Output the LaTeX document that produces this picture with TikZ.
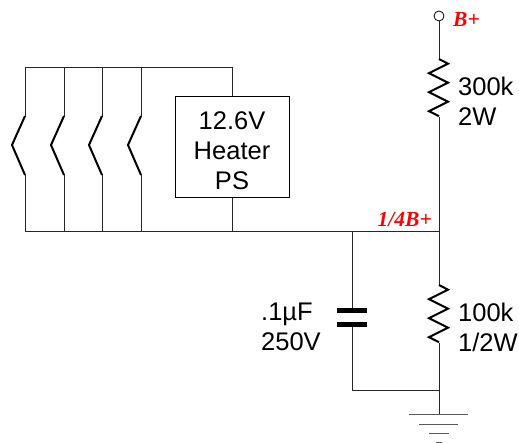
\documentclass[tikz,border=0pt]{standalone}
\usepackage{fontspec}
\setmainfont{Liberation Sans}
\newfontfamily\redfont{Liberation Serif}
\usetikzlibrary{positioning}
\tikzset{wire/.style={line width=1pt,black!85},
  part/.style={line width=2pt,black,line join=miter},
  plate/.style={line width=5pt,black},
  val/.style={align=left,font=\fontsize{25.5}{30}\selectfont,inner sep=0pt,anchor=west},
  lab/.style={red,inner sep=0pt,font=\redfont\bfseries\itshape\fontsize{21.5}{24}\selectfont},
  gnd/.style={line width=1pt,black!65}}
\newcommand{\reszig}[1]{\draw[part] (#1) -- ++(9,4.7) -- ++(-19,9.5) -- ++(19,9.5) -- ++(-19,9.5) -- ++(19,9.5) -- ++(-19,9.5) -- ++(10,5)}
\begin{document}
\begin{tikzpicture}[x=1pt,y=-1pt]
	\useasboundingbox (0,0) rectangle (519,443);
	\coordinate (TL) at (25,68);
	\coordinate (TR) at (232,68);
	\coordinate (BL) at (25,232);
	\coordinate (J) at (439,232);
	\coordinate (JC) at (352,232);
	\coordinate (JP) at (232,232);
	\coordinate (GC) at (352,390);
	\coordinate (G) at (439,390);
	\coordinate (GT) at (439,414);
	\node[draw,line width=1pt,minimum width=114pt,minimum height=101pt,inner sep=0pt] (PS) at (232,147.5) {};
	\node[val,align=center,anchor=center] (PSv) at (232,150.5) {12.6V\\Heater\\PS};
	\node[draw,circle,line width=.8pt,minimum size=10pt,inner sep=0pt] (Bplus) at (439,16) {};
	\node[lab,anchor=west] (BplusL) at (453,19) {B+};
	\node[lab,anchor=east] (QuarterL) at (432,220) {1/4B+};
	% heater strings
	\foreach \i/\x in {1/25,2/64,3/102,4/141}{
		\coordinate (T\i) at (\x,68);
		\coordinate (U\i) at (\x,116);
		\coordinate (V\i) at (\x,175);
		\coordinate (W\i) at (\x,232);
		\draw[wire] (T\i)--(U\i);
		\draw[wire] (V\i)--(W\i);
		\draw[part] (U\i)-- ++(-13,29)--(V\i);
	}
	\draw[wire] (TL)--(TR)--(PS.north);
	\draw[wire] (PS.south)--(JP);
	\draw[wire] (BL)--(J);
	% upper resistor
	\coordinate (R1a) at (439,59);
	\coordinate (R1b) at (439,117);
	\draw[wire] (Bplus)--(R1a);
	\reszig{R1a};
	\draw[wire] (R1b)--(J);
	\coordinate (R2a) at (439,285);
	\coordinate (R2b) at (439,343);
	\draw[wire] (J)--(R2a);
	\reszig{R2a};
	\draw[wire] (R2b)--(G);
	\node[val] (R1v) at (458,101) {300k\\2W};
	\node[val] (R2v) at (458,327) {100k\\1/2W};
	% capacitor
	\coordinate (C1) at (352,311);
	\coordinate (C2) at (352,325);
	\draw[wire] (JC)--(C1);
	\draw[wire] (C2)--(GC)--(G);
	\draw[plate] (337,311)--(367,311);
	\draw[plate] (337,325)--(367,325);
	\node[val,anchor=west] (Cv) at (261,327) {.1µF\\250V};
	% ground
	\draw[wire] (G)--(GT);
	\draw[gnd] (409,414)--(468,414);
	\draw[gnd] (419,424)--(458,424);
	\draw[gnd] (429,433)--(449,433);
	\draw[gnd] (436,442.5)--(442,442.5);
\end{tikzpicture}
\end{document}
